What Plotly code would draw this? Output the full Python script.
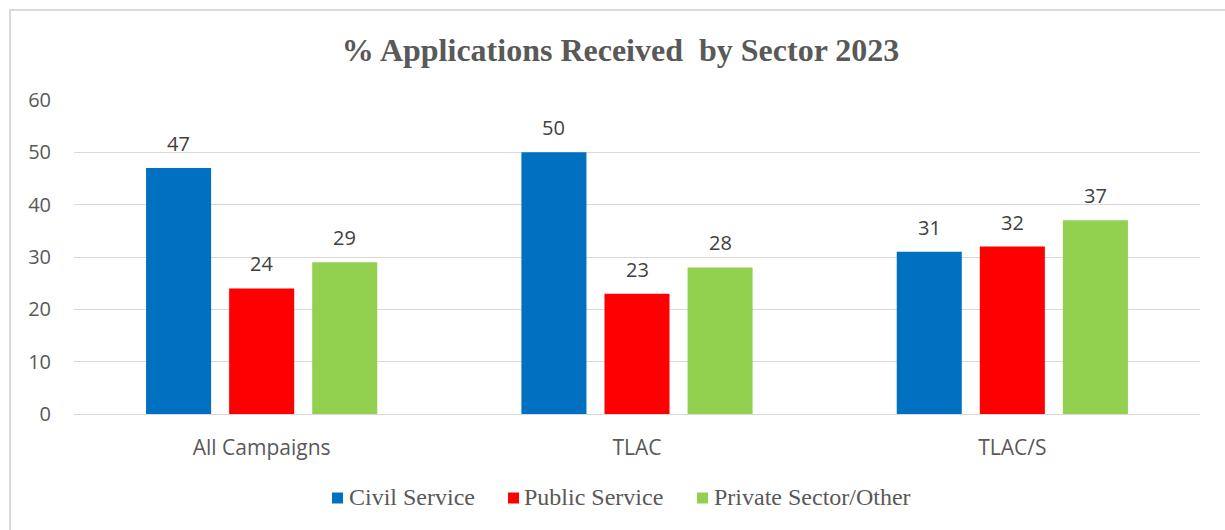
import plotly.graph_objects as go

# Applications received by sector, in percent
categories = ["All Campaigns", "TLAC", "TLAC/S"]
civil_service = [47, 50, 31]
public_service = [24, 23, 32]
private_sector = [29, 28, 37]

series_names = ["Civil Service", "Public Service", "Private Sector/Other"]
series_colors = ["#0070C0", "#FF0000", "#92D050"]
series_values = [civil_service, public_service, private_sector]

W, H = 1225, 530
ML, MR, MT, MB = 74, 25, 100, 116
plot_w = W - ML - MR
plot_h = H - MT - MB
BARGAP, BARGROUPGAP = 0.336, 0.217

label_font = dict(family="Open Sans", size=20, color="#404040")
axis_font = dict(family="Open Sans", size=20, color="#595959")
cat_font = dict(family="Open Sans", size=21, color="#595959")
legend_font = dict(family="Liberation Serif", size=24, color="#595959")


def px_to_paper_x(px):
    return (px - ML) / plot_w


def px_to_paper_y(py):
    return (H - MB - py) / plot_h


fig = go.Figure()
for name, values, color in zip(series_names, series_values, series_colors):
    fig.add_trace(go.Bar(
        name=name,
        x=categories,
        y=values,
        marker=dict(color=color, line=dict(width=0)),
        hoverinfo="skip",
        showlegend=False,
    ))

# value labels above each bar, offset to the bar's slot within its group
slot_px = plot_w / len(categories) * (1 - BARGAP) / len(series_values)
for i, values in enumerate(series_values):
    offset = (i - (len(series_values) - 1) / 2) * slot_px
    for cat, v in zip(categories, values):
        fig.add_annotation(
            x=cat, y=v, xref="x", yref="y",
            text=str(v), showarrow=False, font=label_font,
            xanchor="center", yanchor="bottom",
            xshift=offset, yshift=9,
        )

# legend drawn as coloured squares with serif labels
legend_square_px = [332, 508, 697]
legend_text_px = [347, 522, 712]
legend_y_px = 498
for name, color, sq, tx in zip(series_names, series_colors,
                               legend_square_px, legend_text_px):
    fig.add_shape(
        type="rect", xref="paper", yref="paper",
        x0=px_to_paper_x(sq), x1=px_to_paper_x(sq + 11),
        y0=px_to_paper_y(legend_y_px + 5.5), y1=px_to_paper_y(legend_y_px - 5.5),
        line=dict(width=0), fillcolor=color,
    )
    fig.add_annotation(
        x=px_to_paper_x(tx), y=px_to_paper_y(legend_y_px - 1),
        xref="paper", yref="paper", text=name, showarrow=False,
        font=legend_font, xanchor="left", yanchor="middle",
    )

# outer chart frame (open on the right and bottom edges of the page)
fig.add_shape(
    type="rect", xref="paper", yref="paper",
    x0=px_to_paper_x(10), x1=px_to_paper_x(W + 20),
    y0=px_to_paper_y(H + 20), y1=px_to_paper_y(10),
    line=dict(color="#d9d9d9", width=2), fillcolor="rgba(0,0,0,0)",
    layer="below",
)

fig.update_layout(
    width=W, height=H,
    margin=dict(l=ML, r=MR, t=MT, b=MB, autoexpand=False),
    paper_bgcolor="white", plot_bgcolor="white",
    barmode="group", bargap=BARGAP, bargroupgap=BARGROUPGAP,
    title=dict(
        text="<b>% Applications Received  by Sector 2023</b>",
        font=dict(family="Liberation Serif", size=32, color="#595959"),
        x=0.5065, xref="container", xanchor="center",
        y=1 - 50 / H, yref="container", yanchor="middle",
    ),
    xaxis=dict(
        showgrid=False, showline=False, zeroline=False,
        tickfont=cat_font, ticks="", ticklabelstandoff=19,
    ),
    yaxis=dict(
        range=[0, 60], dtick=10, tick0=0,
        showgrid=True, gridcolor="#d9d9d9", gridwidth=1,
        zeroline=True, zerolinecolor="#d9d9d9", zerolinewidth=1,
        showline=False, ticks="", tickfont=axis_font, ticklabelstandoff=22,
    ),
    showlegend=False,
)

fig.write_html("out.html")
